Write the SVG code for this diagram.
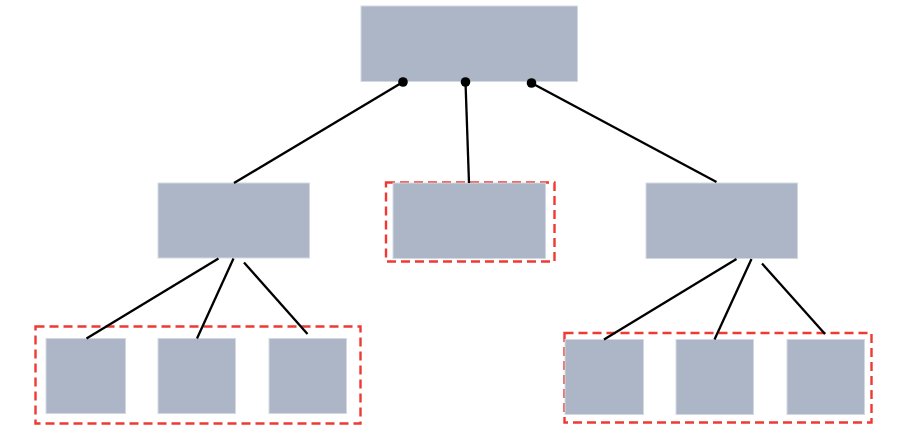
<svg xmlns="http://www.w3.org/2000/svg" width="906" height="436" viewBox="0 0 906 436">
<style>
.node{fill:#adb6c7;stroke:#d3d9e3;stroke-width:1}
.grp{fill:none;stroke:#ee3a33;stroke-width:2.4;stroke-dasharray:9 5}
.edge{stroke:#000;stroke-width:2.3;fill:none}
.dot{fill:#000}
</style>
<rect width="906" height="436" fill="#fff"/>
<g id="groups">
<rect class="grp" x="386" y="182.5" width="168.5" height="79"/>
<rect class="grp" x="35.5" y="326.5" width="325" height="97"/>
<rect class="grp" x="564.5" y="333" width="307" height="89.5"/>
</g>
<g id="root"><rect class="node" x="361" y="6" width="216.5" height="75.5"/></g>
<g id="mid-left"><rect class="node" x="158" y="183" width="151.5" height="75"/></g>
<g id="mid-center"><rect class="node" x="393" y="183" width="152.5" height="75.5"/></g>
<g id="mid-right"><rect class="node" x="646" y="183" width="151.5" height="75.5"/></g>
<g id="leaf-l1"><rect class="node" x="46" y="338.5" width="79.5" height="75"/></g>
<g id="leaf-l2"><rect class="node" x="158" y="338.5" width="77.5" height="75"/></g>
<g id="leaf-l3"><rect class="node" x="269" y="338.5" width="77.5" height="75"/></g>
<g id="leaf-r1"><rect class="node" x="565" y="339.5" width="78.5" height="75"/></g>
<g id="leaf-r2"><rect class="node" x="676" y="339.5" width="77.5" height="75"/></g>
<g id="leaf-r3"><rect class="node" x="787" y="339.5" width="77.5" height="75"/></g>
<g id="connectors">
<line class="edge" x1="403" y1="82" x2="234" y2="183"/>
<line class="edge" x1="465.5" y1="82" x2="469" y2="183"/>
<line class="edge" x1="531.5" y1="83" x2="716.5" y2="182"/>
<line class="edge" x1="218.5" y1="258.5" x2="86.5" y2="338.5"/>
<line class="edge" x1="233.5" y1="258.5" x2="197" y2="338.5"/>
<line class="edge" x1="244" y1="262.5" x2="307.5" y2="334"/>
<line class="edge" x1="736.5" y1="259" x2="604" y2="339.5"/>
<line class="edge" x1="751.5" y1="259" x2="714.5" y2="339.5"/>
<line class="edge" x1="762" y1="263.5" x2="825" y2="334"/>
<circle class="dot" cx="403" cy="82" r="4.8"/>
<circle class="dot" cx="465.5" cy="82" r="4.8"/>
<circle class="dot" cx="531.5" cy="83" r="4.8"/>
</g>
</svg>
